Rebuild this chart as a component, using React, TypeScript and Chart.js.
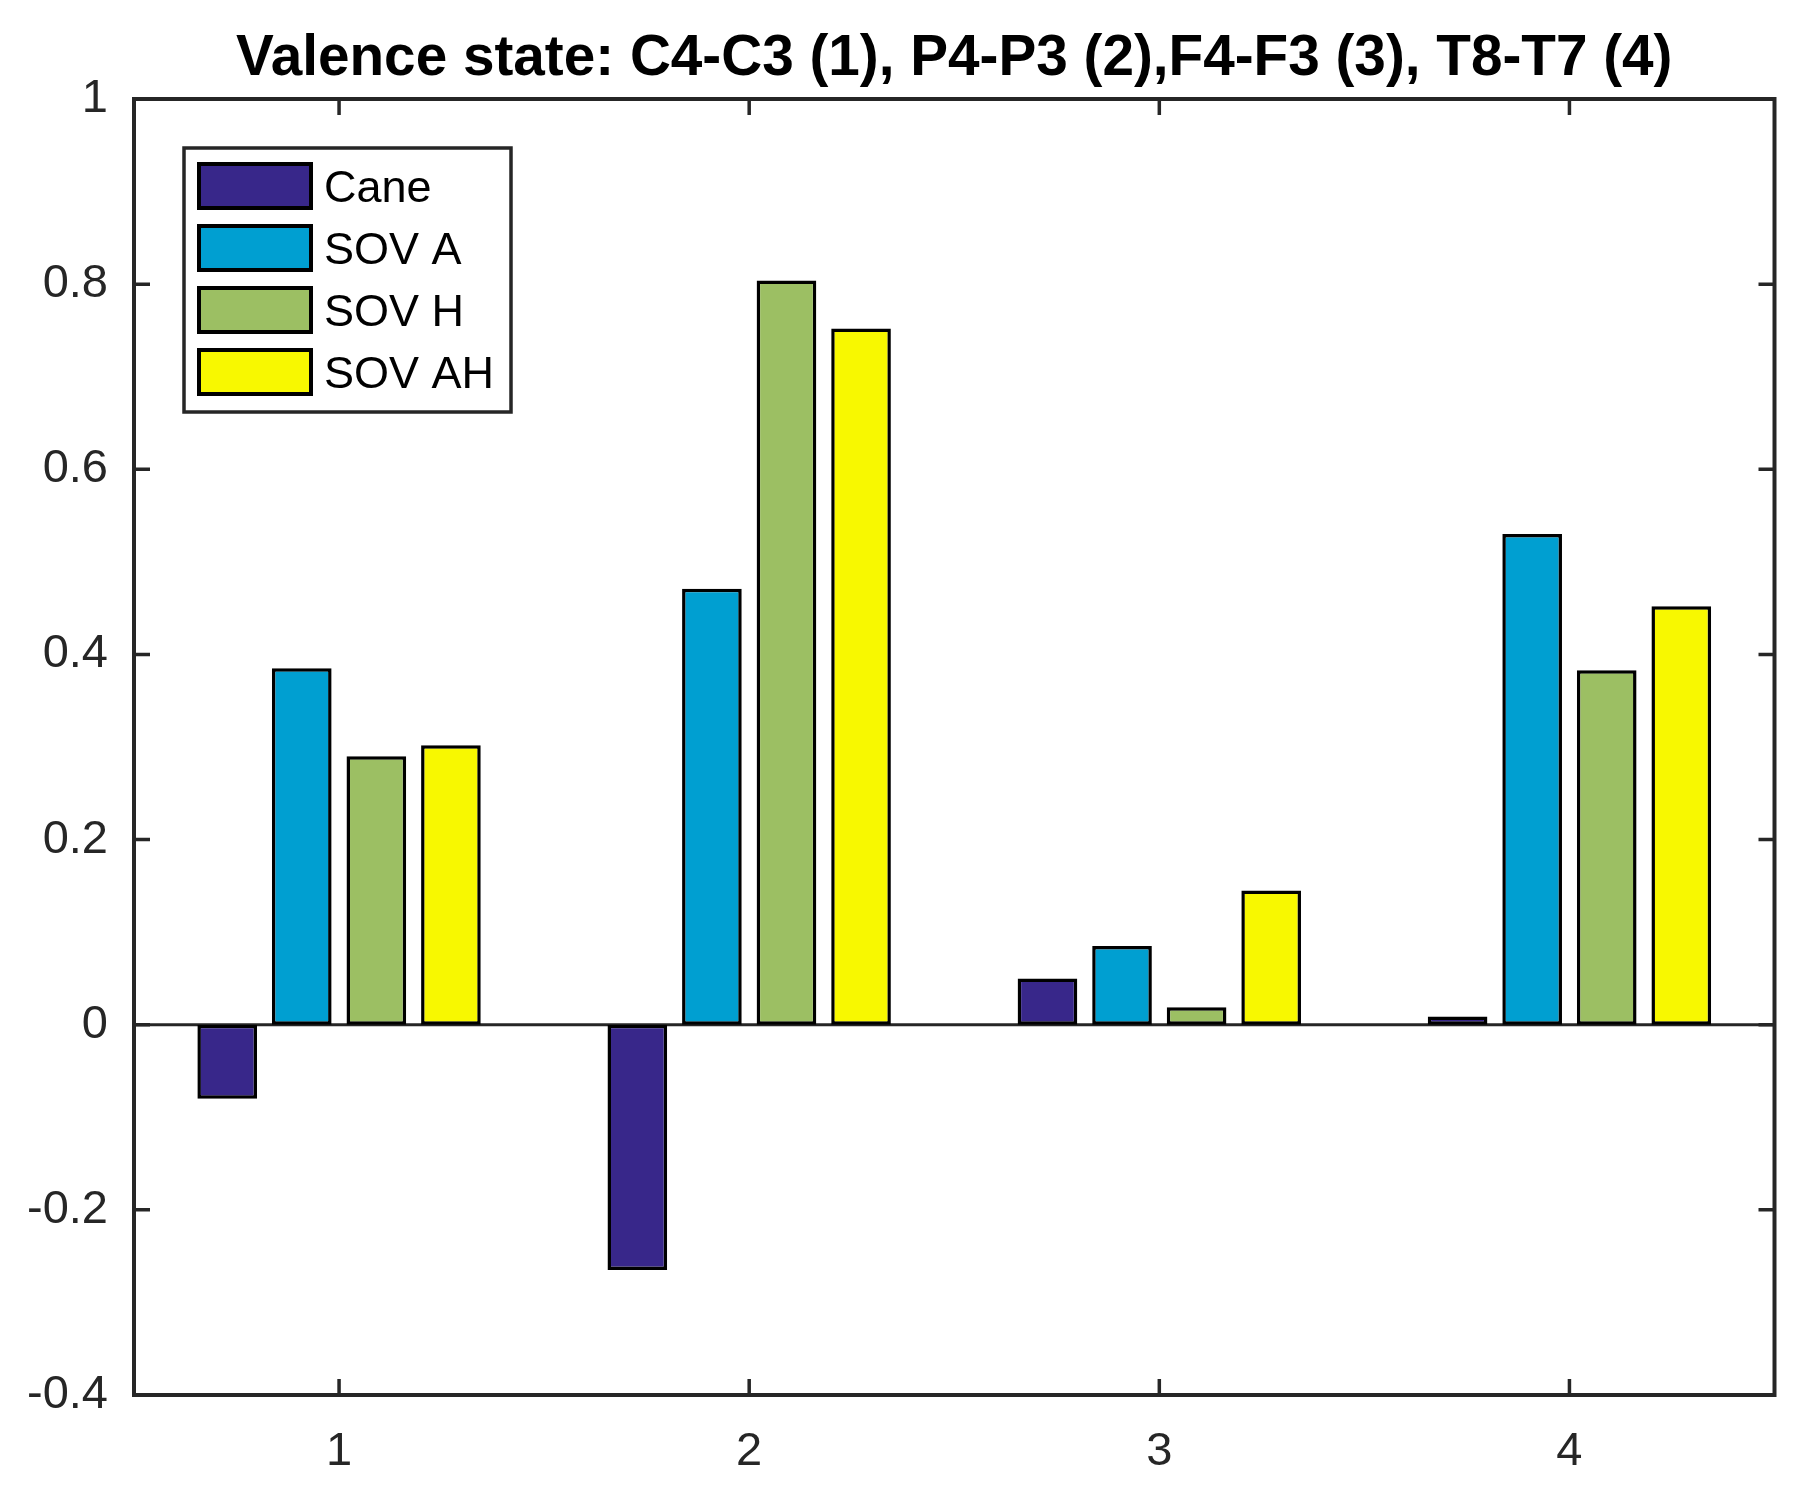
import React, { useEffect, useRef } from "react";
import { Chart, registerables } from "chart.js";

Chart.register(...registerables);

const categories = ["1", "2", "3", "4"];
const seriesNames = ["Cane", "SOV A", "SOV H", "SOV AH"];
const caneValues = [-0.08, -0.265, 0.05, 0.009];
const sovAValues = [0.385, 0.471, 0.085, 0.53];
const sovHValues = [0.29, 0.804, 0.019, 0.383];
const sovAHValues = [0.302, 0.752, 0.145, 0.452];
const seriesColors = ["#38278a", "#009fd1", "#9cbf63", "#f8f800"];
const yTicks = [-0.4, -0.2, 0, 0.2, 0.4, 0.6, 0.8, 1];
const yTickLabels = ["-0.4", "-0.2", "0", "0.2", "0.4", "0.6", "0.8", "1"];
const titleText = "Valence state: C4-C3 (1), P4-P3 (2),F4-F3 (3), T8-T7 (4)";

const AXIS_COLOR = "#262626";
const FONT = "'Liberation Sans', Arial, Helvetica, sans-serif";

const decorPlugin = {
  id: "matlabDecor",
  beforeDatasetsDraw(chart: any) {
    const { ctx, chartArea } = chart;
    const y = chart.scales.y.getPixelForValue(0);
    ctx.save();
    ctx.strokeStyle = AXIS_COLOR;
    ctx.lineWidth = 3;
    ctx.beginPath();
    ctx.moveTo(chartArea.left, y);
    ctx.lineTo(chartArea.right, y);
    ctx.stroke();
    ctx.restore();
  },
  afterDatasetsDraw(chart: any) {
    const { ctx, chartArea } = chart;
    const { left, right, top, bottom } = chartArea;
    const xs = chart.scales.x;
    const ys = chart.scales.y;
    ctx.save();
    // ticks
    ctx.strokeStyle = AXIS_COLOR;
    ctx.lineWidth = 3.5;
    const tl = 16;
    ctx.beginPath();
    ys.ticks.forEach((t: any) => {
      const py = ys.getPixelForValue(t.value);
      ctx.moveTo(left, py);
      ctx.lineTo(left + tl, py);
      ctx.moveTo(right, py);
      ctx.lineTo(right - tl, py);
    });
    xs.ticks.forEach((_t: any, i: number) => {
      const px = xs.getPixelForTick(i);
      ctx.moveTo(px, bottom);
      ctx.lineTo(px, bottom - tl);
      ctx.moveTo(px, top);
      ctx.lineTo(px, top + tl);
    });
    ctx.stroke();
    // frame
    ctx.lineWidth = 4;
    ctx.strokeRect(left, top, right - left, bottom - top);

    // title
    ctx.fillStyle = "#000";
    ctx.font = `bold 56.7px ${FONT}`;
    ctx.textAlign = "center";
    ctx.textBaseline = "alphabetic";
    ctx.fillText(titleText, (left + right) / 2, 75);

    // legend
    const lx = left + 50;
    const ly = top + 49;
    const lw = 327;
    const lh = 264;
    ctx.fillStyle = "#fff";
    ctx.fillRect(lx, ly, lw, lh);
    ctx.strokeStyle = AXIS_COLOR;
    ctx.lineWidth = 3.5;
    ctx.strokeRect(lx, ly, lw, lh);
    ctx.font = `45px ${FONT}`;
    ctx.textAlign = "left";
    chart.data.datasets.forEach((ds: any, i: number) => {
      const sx = lx + 15;
      const sy = ly + 16 + i * 62;
      ctx.fillStyle = ds.backgroundColor;
      ctx.fillRect(sx, sy, 112, 44);
      ctx.strokeStyle = "#000";
      ctx.lineWidth = 4;
      ctx.strokeRect(sx, sy, 112, 44);
      ctx.fillStyle = "#000";
      ctx.fillText(ds.label, sx + 125, sy + 22 + 16);
    });
    ctx.restore();
  },
};

export default function App() {
  const canvasRef = useRef<HTMLCanvasElement | null>(null);

  useEffect(() => {
    if (!canvasRef.current) return;
    const allValues = [caneValues, sovAValues, sovHValues, sovAHValues];
    const chart = new Chart(canvasRef.current, {
      type: "bar",
      data: {
        labels: categories,
        datasets: seriesNames.map((name, i) => ({
          label: name,
          data: allValues[i],
          backgroundColor: seriesColors[i],
          borderColor: "#000",
          borderWidth: 3.5,
          borderSkipped: false,
          barPercentage: 0.8,
          categoryPercentage: 4 / 5.5,
        })),
      },
      options: {
        animation: false,
        responsive: false,
        devicePixelRatio: 1,
        layout: { padding: { left: 0, right: 35.5, top: 99, bottom: 0 } },
        plugins: {
          legend: { display: false },
          title: { display: false },
          tooltip: { enabled: false },
        },
        scales: {
          x: {
            type: "category",
            offset: true,
            grid: { display: false, drawTicks: false },
            border: { display: false },
            ticks: {
              color: AXIS_COLOR,
              font: { family: FONT, size: 47 },
              padding: 29,
              maxRotation: 0,
            },
            afterFit: (scale: any) => {
              scale.height = 97;
            },
          },
          y: {
            min: -0.4,
            max: 1,
            grid: { display: false, drawTicks: false },
            border: { display: false },
            afterBuildTicks: (scale: any) => {
              scale.ticks = yTicks.map((v) => ({ value: v }));
            },
            ticks: {
              color: AXIS_COLOR,
              font: { family: FONT, size: 47 },
              padding: 26,
              callback: (value: any) => {
                const idx = yTicks.findIndex((v) => Math.abs(v - Number(value)) < 1e-9);
                return idx >= 0 ? yTickLabels[idx] : "";
              },
            },
            afterFit: (scale: any) => {
              scale.width = 134;
            },
          },
        },
      },
      plugins: [decorPlugin],
    });
    return () => chart.destroy();
  }, []);

  return (
    <div
      style={{
        position: "fixed",
        left: 0,
        top: 0,
        width: 1810,
        height: 1492,
        background: "#fff",
      }}
    >
      <canvas
        ref={canvasRef}
        width={1810}
        height={1492}
        style={{ display: "block", width: 1810, height: 1492 }}
      />
    </div>
  );
}
